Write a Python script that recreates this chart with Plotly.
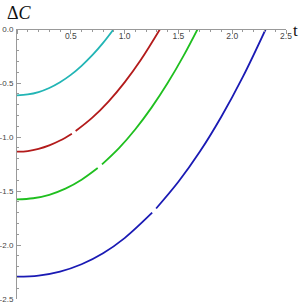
import plotly.graph_objects as go

# values (None marks the small gap in each curve)
t_cyan = [0.0, 0.1, 0.2, 0.3, 0.4, 0.5, 0.6, 0.7, 0.8, 0.9]
dc_cyan = [-0.614, -0.606, -0.584, -0.546, -0.493, -0.425, -0.341, -0.243, -0.129, 0.0]

t_red = [0.0, 0.1, 0.2, 0.3, 0.4, 0.51, None, 0.545, 0.7, 0.85, 1.0, 1.15, 1.33]
dc_red = [-1.136, -1.130, -1.110, -1.078, -1.033, -0.969, None, -0.945, -0.821, -0.672, -0.494, -0.287, 0.0]

t_green = [0.0, 0.15, 0.3, 0.45, 0.6, 0.75, None, 0.79, 0.95, 1.1, 1.25, 1.4, 1.55, 1.679]
dc_green = [-1.577, -1.567, -1.535, -1.478, -1.395, -1.287, None, -1.253, -1.100, -0.928, -0.728, -0.500, -0.244, 0.0]

t_blue = [0.0, 0.2, 0.4, 0.6, 0.8, 1.0, 1.256, None, 1.293, 1.5, 1.7, 1.9, 2.1, 2.312]
dc_blue = [-2.293, -2.283, -2.246, -2.178, -2.076, -1.936, -1.701, None, -1.662, -1.415, -1.135, -0.810, -0.441, 0.0]

x_ticks = [0.0, 0.5, 1.0, 1.5, 2.0, 2.5]
x_tick_labels = ["", "0.5", "1.0", "1.5", "2.0", "2.5"]
y_ticks = [-2.5, -2.0, -1.5, -1.0, -0.5, 0.0]
y_tick_labels = ["-2.5", "-2.0", "-1.5", "-1.0", "-0.5", "0.0"]

series = [
    (t_cyan, dc_cyan, "#22b5b5"),
    (t_red, dc_red, "#b31b1b"),
    (t_green, dc_green, "#1fbf1f"),
    (t_blue, dc_blue, "#1a1ab4"),
]

fig = go.Figure()
for xs, ys, col in series:
    fig.add_trace(go.Scatter(x=xs, y=ys, mode="lines", connectgaps=False,
                             line=dict(color=col, width=1.8, shape="spline"),
                             showlegend=False, hoverinfo="skip"))

xtickfont = dict(family="Liberation Sans, Arial, sans-serif", size=8.5, color="#444")
ytickfont = dict(family="Liberation Sans, Arial, sans-serif", size=8, color="#444")
serif = "Liberation Serif, Times New Roman, serif"

fig.update_layout(
    width=300, height=305,
    margin=dict(l=17, r=14, t=29, b=6),
    paper_bgcolor="white", plot_bgcolor="white",
    template="none",
    font=dict(family="Liberation Sans, Arial, sans-serif", size=8, color="#444"),
    xaxis=dict(range=[0, 2.5], side="bottom", anchor="free", position=1.0,
               showgrid=False, zeroline=False,
               showline=True, linecolor="#999", linewidth=1,
               tickmode="array", tickvals=x_ticks, ticktext=x_tick_labels,
               ticks="outside", ticklen=4, tickcolor="#999", tickwidth=1,
               tickfont=xtickfont, ticklabelstandoff=-5,
               minor=dict(dtick=0.1, tick0=0, ticks="outside", ticklen=2,
                          tickcolor="#999", showgrid=False),
               automargin=False, fixedrange=True),
    yaxis=dict(range=[-2.5, 0], showgrid=False, zeroline=False,
               showline=True, linecolor="#999", linewidth=1,
               tickmode="array", tickvals=y_ticks, ticktext=y_tick_labels,
               ticks="inside", ticklen=4, tickcolor="#999", tickwidth=1,
               tickfont=ytickfont, ticklabelstandoff=1,
               minor=dict(dtick=0.1, tick0=0, ticks="inside", ticklen=2,
                          tickcolor="#999", showgrid=False),
               automargin=False, fixedrange=True),
    annotations=[
        dict(text="Δ<i>C</i>", xref="paper", yref="paper", x=-0.045, y=1.059,
             xanchor="left", yanchor="middle", showarrow=False,
             font=dict(family=serif, size=18, color="#111")),
        dict(text="t", xref="paper", yref="paper", x=1.02, y=0.996,
             xanchor="left", yanchor="middle", showarrow=False,
             font=dict(family=serif, size=17, color="#111")),
    ],
)

fig.write_html("out.html", config={"displayModeBar": False},
               post_script="document.body.style.margin='0';")
